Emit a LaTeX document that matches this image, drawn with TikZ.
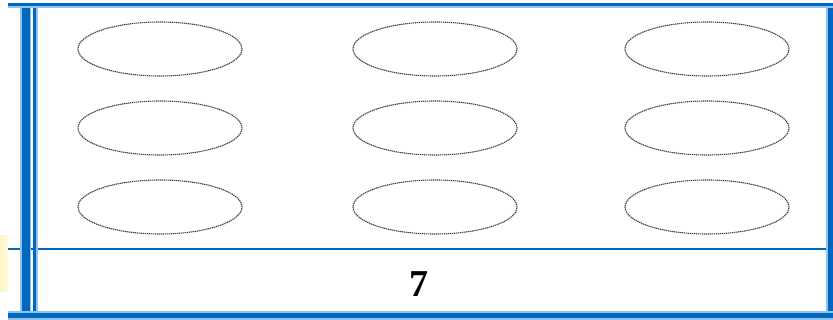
\documentclass[tikz,border=0pt]{standalone}
\usepackage{fontspec}
\setmainfont{Liberation Serif}
\usetikzlibrary{shapes.geometric}
\definecolor{bdark}{RGB}{0,102,190}
\definecolor{blight}{RGB}{140,195,240}
\definecolor{glow}{RGB}{255,244,196}
\tikzset{
  oval/.style={ellipse, draw=black!75, line width=1.1pt, dash pattern=on 1.3pt off 0.7pt, minimum width=164pt, minimum height=54pt, inner sep=0pt},
  numlabel/.style={font=\fontsize{38}{42}\selectfont\bfseries, inner sep=0pt}
}
\begin{document}
\begin{tikzpicture}[x=1pt,y=-1pt]
\useasboundingbox (0,0) rectangle (833,320);
\fill[white] (0,0) rectangle (833,320);
% faint glow at left
\shade[left color=glow, right color=glow!60!white] (0,236) rectangle (8,292);
% top border
\fill[bdark] (8,3) rectangle (833,6.5);
\fill[blight] (8,6.5) rectangle (833,8.5);
% bottom border
\fill[blight] (8,311.5) rectangle (833,313.5);
\fill[bdark] (8,313.5) rectangle (833,318);
\fill[blight] (8,318) rectangle (833,320);
% right border
\fill[blight] (825.5,8.5) rectangle (828,311.5);
\fill[bdark] (828,8.5) rectangle (833,311.5);
% inner divider
\fill[bdark] (8,248.3) rectangle (826,250);
% left bars
\fill[blight] (20,8.5) rectangle (31,311.5);
\fill[bdark] (22,8.5) rectangle (30,311.5);
\fill[bdark] (33,8.5) rectangle (36,311.5);
\fill[blight] (36,8.5) rectangle (38,311.5);
% ovals
\node[oval] (o11) at (160,49) {};
\node[oval] (o12) at (435,49) {};
\node[oval] (o13) at (707,49) {};
\node[oval] (o21) at (160,128) {};
\node[oval] (o22) at (435,128) {};
\node[oval] (o23) at (707,128) {};
\node[oval] (o31) at (160,207) {};
\node[oval] (o32) at (435,207) {};
\node[oval] (o33) at (707,207) {};
\node[numlabel] (num) at (419,284) {7};
\end{tikzpicture}
\end{document}
